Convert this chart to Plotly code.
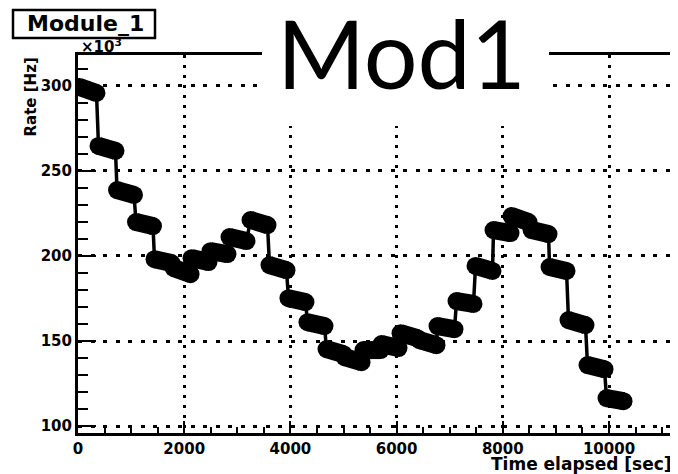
import plotly.graph_objects as go

# ---- data ----
time_sec = [28, 348, 386, 706, 735, 1055, 1092, 1412, 1441, 1761,
            1799, 2119, 2138, 2458, 2495, 2815, 2853, 3173, 3249, 3569,
            3606, 3926, 3964, 4284, 4322, 4642, 4680, 5000, 5019, 5339,
            5377, 5697, 5716, 6036, 6074, 6394, 6431, 6751, 6770, 7090,
            7128, 7448, 7486, 7806, 7825, 8145, 8164, 8484, 8541, 8861,
            8880, 9200, 9237, 9557, 9595, 9915, 9953, 10273]
rate_k = [299.2, 295.7, 264.6, 261.7, 238.7, 235.8, 219.9, 217.5, 198.1, 195.8,
          192.9, 189.3, 198.7, 196.4, 202.8, 201.1, 211.1, 208.7, 221.1, 218.1,
          194.6, 191.6, 175.2, 172.9, 161.1, 158.8, 145.3, 142.3, 140.6, 137.6,
          144.7, 144.7, 148.2, 145.9, 154.6, 151.7, 150.5, 147.6, 158.8, 157.0,
          173.5, 171.8, 194.1, 191.2, 215.2, 213.4, 223.4, 219.9, 215.2, 212.8,
          193.5, 191.2, 162.3, 159.4, 135.9, 133.5, 116.5, 114.7]

x_range = [0, 11205]
y_range = [96, 318]
y_ticks = [100, 150, 200, 250, 300]
x_ticks = [0, 2000, 4000, 6000, 8000, 10000]

# page has an 8px body margin: lay the figure out in page pixels minus that offset
OFF = 8
W, H = 678 - OFF, 474 - OFF
L, R, T, B = 70, 5, 47, 41
pw, ph = W - L - R, H - T - B


def px(x):
    return (x - OFF - L) / pw


def py(y):
    return (H - B - (y - OFF)) / ph


FONT = "DejaVu Sans"

# consecutive pairs of points form one elongated blob
blob_x, blob_y = [], []
for i in range(0, len(time_sec), 2):
    blob_x += [time_sec[i], time_sec[i + 1], None]
    blob_y += [rate_k[i], rate_k[i + 1], None]

fig = go.Figure()
fig.add_trace(go.Scatter(
    x=time_sec, y=rate_k, mode="lines",
    line=dict(color="black", width=3.5),
    showlegend=False, hoverinfo="skip"))
fig.add_trace(go.Scatter(
    x=blob_x, y=blob_y, mode="lines+markers", connectgaps=False,
    line=dict(color="black", width=18),
    marker=dict(color="black", size=18, symbol="circle"),
    showlegend=False, hoverinfo="skip"))

axis_common = dict(
    showline=True, linecolor="black", linewidth=3, mirror=True,
    ticks="inside", tickcolor="black", tickwidth=2,
    showgrid=True, gridcolor="black", gridwidth=3,
    zeroline=False, automargin=False,
    tickfont=dict(family=FONT, size=15, color="black", weight="bold"),
)

fig.update_xaxes(range=x_range, tickvals=x_ticks, ticktext=[str(v) for v in x_ticks],
                 ticklen=12, griddash="3px,7px",
                 minor=dict(dtick=500, tick0=0, ticklen=6, tickwidth=2, tickcolor="black",
                            ticks="inside", showgrid=False),
                 **axis_common)
fig.update_yaxes(range=y_range, tickvals=y_ticks, ticktext=[str(v) for v in y_ticks],
                 ticklen=18, griddash="4px,8.5px",
                 minor=dict(dtick=10, tick0=0, ticklen=10, tickwidth=2, tickcolor="black",
                            ticks="inside", showgrid=False),
                 **axis_common)

shapes = [
    # white pave behind the big title
    dict(type="rect", xref="paper", yref="paper", x0=px(262), x1=px(549), y0=py(126), y1=py(OFF - 2),
         fillcolor="white", line=dict(width=0), layer="above"),
    # Module_1 box
    dict(type="rect", xref="paper", yref="paper", x0=px(13), x1=px(155), y0=py(38), y1=py(10),
         fillcolor="white", line=dict(color="black", width=2.5), layer="above"),
]

annotations = [
    dict(text="Mod1", x=px(401), y=py(52), xref="paper", yref="paper",
         xanchor="center", yanchor="middle", showarrow=False,
         font=dict(family="Lato", size=95, color="black")),
    dict(text="Module_1", x=px(85), y=py(24), xref="paper", yref="paper",
         xanchor="center", yanchor="middle", showarrow=False,
         font=dict(family=FONT, size=22, color="black", weight="bold")),
    dict(text="×10<sup>3</sup>", x=px(79), y=py(46), xref="paper", yref="paper",
         xanchor="left", yanchor="middle", showarrow=False,
         font=dict(family=FONT, size=15, color="black", weight="bold")),
    dict(text="Time elapsed [sec]", x=px(674), y=py(464), xref="paper", yref="paper",
         xanchor="right", yanchor="middle", showarrow=False,
         font=dict(family=FONT, size=17, color="black", weight="bold")),
    dict(text="Rate [Hz]", x=px(30), y=py(56), xref="paper", yref="paper",
         xanchor="center", yanchor="top", textangle=-90, showarrow=False,
         font=dict(family=FONT, size=15, color="black", weight="bold")),
]

fig.update_layout(
    width=W, height=H, margin=dict(l=L, r=R, t=T, b=B),
    paper_bgcolor="white", plot_bgcolor="white",
    shapes=shapes, annotations=annotations,
)

fig.write_html("out.html")
